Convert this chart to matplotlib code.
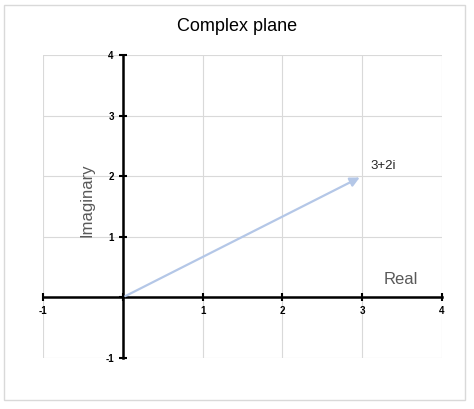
import matplotlib
matplotlib.use("Agg")
import matplotlib.pyplot as plt
from matplotlib.patches import Rectangle

x_ticks = [-1, 0, 1, 2, 3, 4]
y_ticks = [-1, 0, 1, 2, 3, 4]
vec_re = 3
vec_im = 2
vec_label = "3+2i"

plt.rcParams['font.family'] = ['Liberation Sans', 'DejaVu Sans']
fig = plt.figure(figsize=(4.74, 4.09), dpi=100)
fig.patches.append(Rectangle((0.008, 0.022), 0.972, 0.965, transform=fig.transFigure,
                             fill=False, edgecolor='#d9d9d9', linewidth=1))
ax = fig.add_axes([0.0907, 0.1247, 0.8418, 0.7408])
ax.set_xlim(-1, 4)
ax.set_ylim(-1, 4)
ax.set_xticks(x_ticks)
ax.set_yticks(y_ticks)
ax.grid(True, color='#d9d9d9', linewidth=0.8)
ax.set_axisbelow(True)

for s in ['top', 'right']:
    ax.spines[s].set_visible(False)
ax.spines['left'].set_position(('data', 0))
ax.spines['bottom'].set_position(('data', 0))
ax.spines['left'].set_linewidth(1.8)
ax.spines['bottom'].set_linewidth(1.8)
ax.tick_params(direction='inout', length=6, width=1.5, labelsize=7, colors='black')
ax.set_yticklabels([str(v) if v != 0 else '' for v in y_ticks])
ax.set_xticklabels([str(v) if v != 0 else '' for v in x_ticks])
for lbl in ax.get_yticklabels() + ax.get_xticklabels():
    lbl.set_fontweight('bold')

ax.annotate('', xy=(vec_re, vec_im), xytext=(0, 0),
            arrowprops=dict(arrowstyle='-|>', color='#b4c7e7', lw=1.6, mutation_scale=14))
ax.text(vec_re + 0.1, vec_im + 0.12, vec_label, fontsize=9.5, color='#262626')
ax.text(-0.45, 1.6, 'Imaginary', rotation=90, fontsize=12, color='#595959',
        ha='center', va='center')
ax.text(3.48, 0.3, 'Real', fontsize=12, color='#595959', ha='center', va='center')

fig.text(0.5, 0.935, 'Complex plane', ha='center', va='center', fontsize=13, color='black')
fig.savefig('out.png', dpi=100)
